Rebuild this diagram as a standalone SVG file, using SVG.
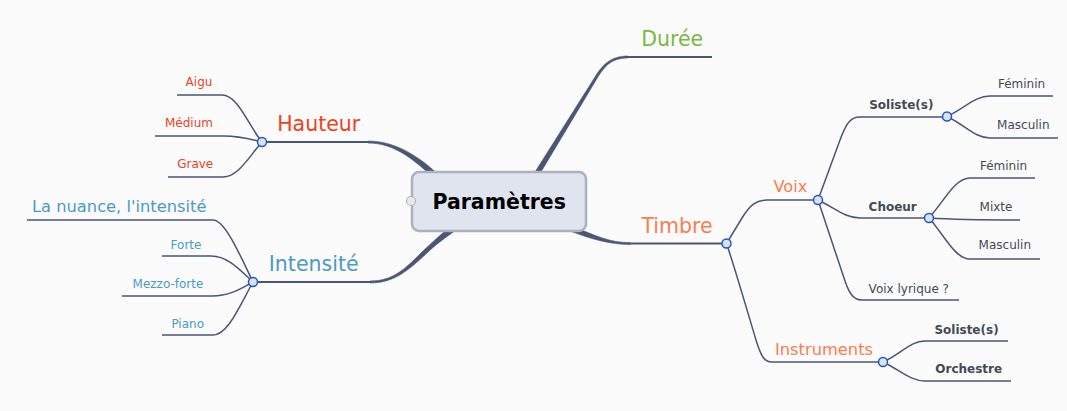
<svg xmlns="http://www.w3.org/2000/svg" width="1067" height="411" viewBox="0 0 1067 411">
<style>
.bg{fill:#fbfbfc}
.thin{fill:none;stroke:#4b5675;stroke-width:1.5}
.mid{fill:none;stroke:#4b5675;stroke-width:2}
.taper{fill:#4b5675;stroke:#4b5675;stroke-width:0.6}
.dot{fill:#dbe1ee;stroke:#1f55d0;stroke-width:1.5}
.t{font-family:"DejaVu Sans",Verdana,sans-serif;text-anchor:middle}
.s{font-size:12px}
.b{font-weight:bold}
.l{font-size:20.5px}
.m{font-size:16.3px}
.red{fill:#f0401e}
.blue{fill:#4a9ac4}
.coral{fill:#fa7d4f}
.green{fill:#78b843}
.gray{fill:#424a52}
</style>
<rect class="bg" x="0" y="0" width="1067" height="411"/>
<g id="connectors">
<!-- main tapered branches -->
<path class="taper" d="M368,141 C395,141 420,155.5 447,183 L443,187 C416,160.5 395,143 368,143 Z"/>
<path class="taper" d="M628,56 C610,56 602,65 592.9,80.3 L527.7,183.6 L532.3,186.4 L595.1,81.7 C604,67 610,58 628,58 Z"/>
<path class="taper" d="M630,242.6 C610,242.6 596,236 571,225.5 L568.5,230.5 C594,240 610,244.4 630,244.4 Z"/>
<path class="taper" d="M370,281 C395,281 407,266.5 423.5,250.5 C437,238 446,229.5 460,219.5 L464,224.5 C450,234.5 439,241.5 426.5,253.5 C409,269.5 395,283 370,283 Z"/>
<path class="mid" d="M262,142 H369"/>
<path class="mid" d="M627,57 H712"/>
<path class="mid" d="M629,243.5 H726.5"/>
<path class="mid" d="M253,282 H371"/>
<!-- Hauteur children -->
<path class="thin" d="M177,95 H222 C238,95 248,125 262,142"/>
<path class="thin" d="M155,136 H224 C240,136 250,139 262,142"/>
<path class="thin" d="M168,177 H223 C238,177 248,158 262,142"/>
<!-- Intensité children -->
<path class="thin" d="M27,220 H213 C225,220 240,255 253,282"/>
<path class="thin" d="M162,256 H211 C228,256 240,270 253,282"/>
<path class="thin" d="M122,296 H212 C230,296 242,288 253,282"/>
<path class="thin" d="M162,335 H213 C228,335 240,305 253,282"/>
<!-- Timbre children -->
<path class="thin" d="M726.5,243.5 L742,218 C750,205 756,200 767,200 H818"/>
<path class="thin" d="M726.5,243.5 C733,262 750,320 756,340 C761,356 764,362 772,362 H883"/>
<!-- Voix children -->
<path class="thin" d="M818,200 L840,140 C846,124 850,117 860,117 H947"/>
<path class="thin" d="M818,200 C835,208 845,218 860,218 H929"/>
<path class="thin" d="M818,200 L843,275 C848,291 852,300 862,300 H959"/>
<!-- Soliste(s) children -->
<path class="thin" d="M947,116.5 C965,108 975,96 990,96 H1053"/>
<path class="thin" d="M947,116.5 C965,125 975,138 990,138 H1058"/>
<!-- Choeur children -->
<path class="thin" d="M929,218 C945,200 955,178 970,178 H1035"/>
<path class="thin" d="M929,218 Q960,220 1020,220"/>
<path class="thin" d="M929,218 C945,236 955,259 970,259 H1040"/>
<!-- Instruments children -->
<path class="thin" d="M883,362 C900,355 910,341 925,341 H1008"/>
<path class="thin" d="M883,362 C900,370 910,381 925,381 H1011"/>
</g>
<g id="central">
<rect x="412" y="172" width="174" height="59" rx="7" fill="#e0e4ee" stroke="#adb1bb" stroke-width="2.5"/>
<circle cx="411" cy="201" r="4.5" fill="#e8e9ee" stroke="#b0b4bc" stroke-width="1.2"/>
<text class="t b" x="499.2" y="209.3" font-size="20.5" fill="#000">Paramètres</text>
</g>
<g id="hauteur">
<circle class="dot" cx="262" cy="142" r="4.5"/>
<text class="t l red" x="318.7" y="130.7">Hauteur</text>
</g>
<g id="aigu"><text class="t s red" x="199" y="86">Aigu</text></g>
<g id="medium"><text class="t s red" x="189" y="126.7">Médium</text></g>
<g id="grave"><text class="t s red" x="195.2" y="167.7">Grave</text></g>
<g id="intensite">
<circle class="dot" cx="253" cy="282" r="4.5"/>
<text class="t l blue" x="313.7" y="271">Intensité</text>
</g>
<g id="nuance"><text class="t m blue" x="119.2" y="211.7">La nuance, l'intensité</text></g>
<g id="forte"><text class="t s blue" x="186" y="249">Forte</text></g>
<g id="mezzo"><text class="t s blue" x="168" y="287.7">Mezzo-forte</text></g>
<g id="piano"><text class="t s blue" x="187.7" y="327.7">Piano</text></g>
<g id="duree"><text class="t l green" x="672.2" y="46">Durée</text></g>
<g id="timbre">
<circle class="dot" cx="726.5" cy="243.5" r="4.5"/>
<text class="t l coral" x="677" y="232.7">Timbre</text>
</g>
<g id="voix">
<circle class="dot" cx="818" cy="200" r="4.5"/>
<text class="t m coral" x="790.5" y="191.7">Voix</text>
</g>
<g id="soliste-voix">
<circle class="dot" cx="947" cy="116.5" r="4.5"/>
<text class="t s b gray" x="901.3" y="109">Soliste(s)</text>
</g>
<g id="feminin1"><text class="t s gray" x="1021.5" y="88">Féminin</text></g>
<g id="masculin1"><text class="t s gray" x="1023.3" y="128.7">Masculin</text></g>
<g id="choeur">
<circle class="dot" cx="929" cy="218" r="4.5"/>
<text class="t s b gray" x="892.7" y="210.7">Choeur</text>
</g>
<g id="feminin2"><text class="t s gray" x="1003.5" y="170">Féminin</text></g>
<g id="mixte"><text class="t s gray" x="996" y="210.7">Mixte</text></g>
<g id="masculin2"><text class="t s gray" x="1004.8" y="249.3">Masculin</text></g>
<g id="lyrique"><text class="t s gray" x="908.8" y="292.7">Voix lyrique ?</text></g>
<g id="instruments">
<circle class="dot" cx="883" cy="362" r="4.5"/>
<text class="t m coral" x="824" y="354.7">Instruments</text>
</g>
<g id="soliste-instr"><text class="t s b gray" x="966.5" y="334">Soliste(s)</text></g>
<g id="orchestre"><text class="t s b gray" x="968.7" y="372.7">Orchestre</text></g>
</svg>
